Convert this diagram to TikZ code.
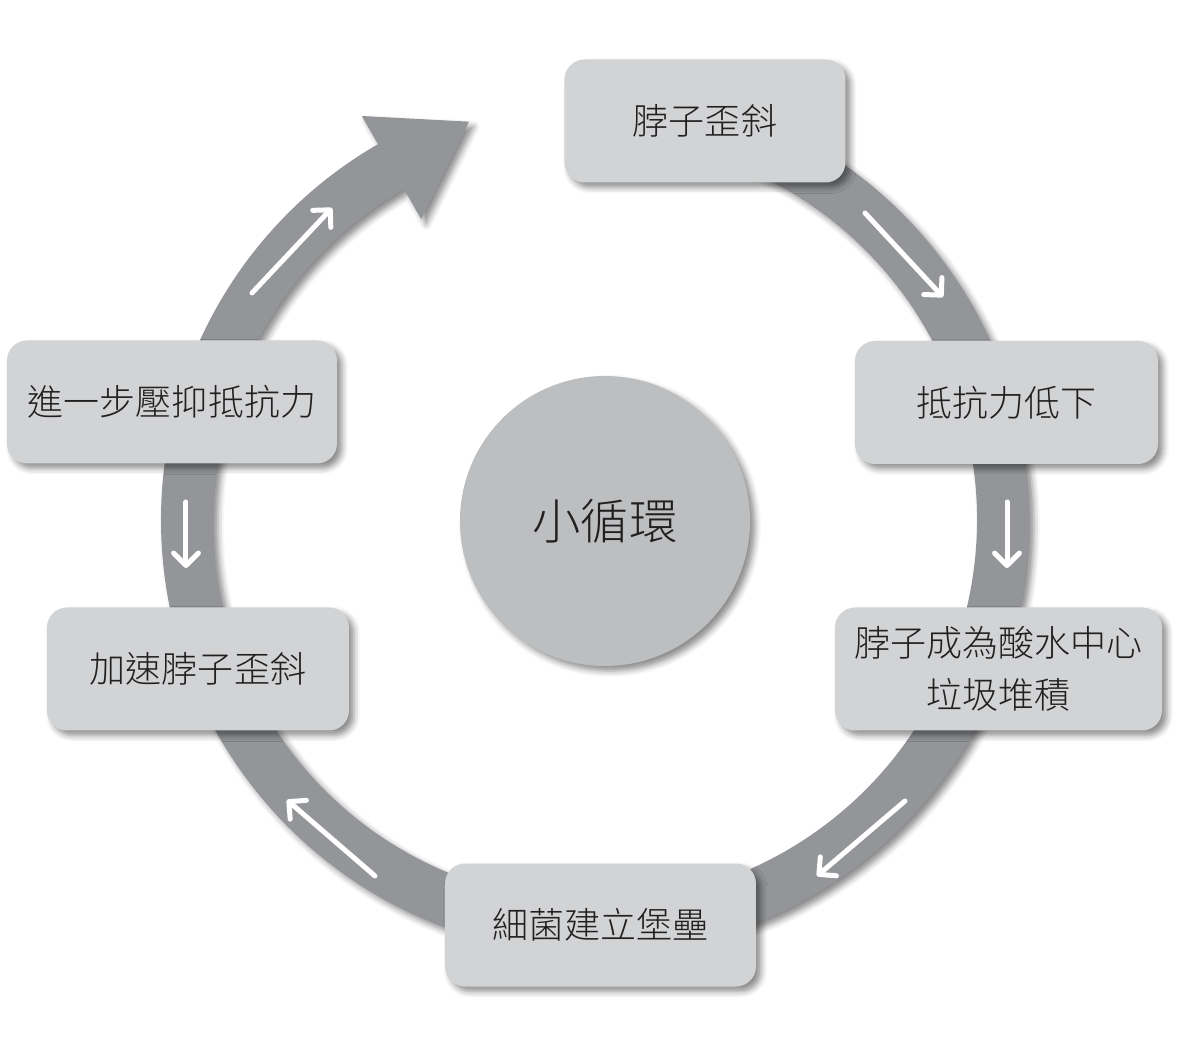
\documentclass[tikz,border=0pt]{standalone}
\usepackage{fontspec}
\newfontfamily\cjk{Noto Sans CJK TC}[UprightFont={* Light}]
\usetikzlibrary{arrows.meta,calc,shadows.blur}
\definecolor{ringgray}{HTML}{939598}
\definecolor{boxgray}{HTML}{D1D3D4}
\definecolor{hubgray}{HTML}{BCBEC0}
\definecolor{inkblack}{HTML}{231F20}

\begin{document}
\begin{tikzpicture}[>={Straight Barb[angle=90:10pt,round]},
  soft/.style={blur shadow={shadow xshift=0.1cm,shadow yshift=-0.1cm,shadow blur radius=0.12cm,shadow opacity=45}},
  stage/.style={rounded corners=0.4cm,fill=boxgray,minimum height=2.46cm,text=inkblack,
    font=\cjk\fontsize{20.5}{29.5}\selectfont,align=center,soft},
  flow/.style={->,white,line width=0.1cm,line cap=round}]
\useasboundingbox (-11.9,-10.56) rectangle (11.88,10.4);

% draw the big ring and its arrow head
\fill[ringgray,soft] (90:8.68) arc[start angle=90,end angle=-240,radius=8.68]
  -- (120:9.33) -- ($(120:8.16)+(30:1.8)$) -- (120:6.95) -- (120:7.64)
  arc[start angle=-240,end angle=90,radius=7.64] -- cycle;

% white arrows along the ring
\foreach \sx/\sy/\ex/\ey in {
	-6.86/4.54/-5.26/6.24,
	5.40/6.14/6.96/4.46,
	8.24/0.36/8.24/-0.96,
	6.20/-5.62/4.44/-7.12,
	-4.40/-7.12/-6.16/-5.60,
	-8.18/0.36/-8.18/-0.96}
\draw[flow] (\sx,\sy) -- (\ex,\ey);

% draw the stages
\node[stage,minimum width=5.62cm] (neck) at (2.2,7.98) {脖子歪斜};
\node[stage,minimum width=6.06cm] (resist) at (8.23,2.35) {抵抗力低下};
\node[stage,minimum width=6.54cm] (waste) at (8.07,-2.98) {脖子成為酸水中心\\垃圾堆積};
\node[stage,minimum width=6.22cm] (fort) at (0.11,-8.1) {細菌建立堡壘};
\node[stage,minimum width=6.04cm] (faster) at (-7.94,-2.98) {加速脖子歪斜};
\node[stage,minimum width=6.6cm] (suppress) at (-8.46,2.36) {進一步壓抑抵抗力};

% the hub in the middle
\node[circle,fill=hubgray,minimum size=5.8cm,soft,text=inkblack,
  font=\cjk\fontsize{27.5}{32}\selectfont] (hub) at (0.2,-0.02) {小循環};
\end{tikzpicture}
\end{document}
